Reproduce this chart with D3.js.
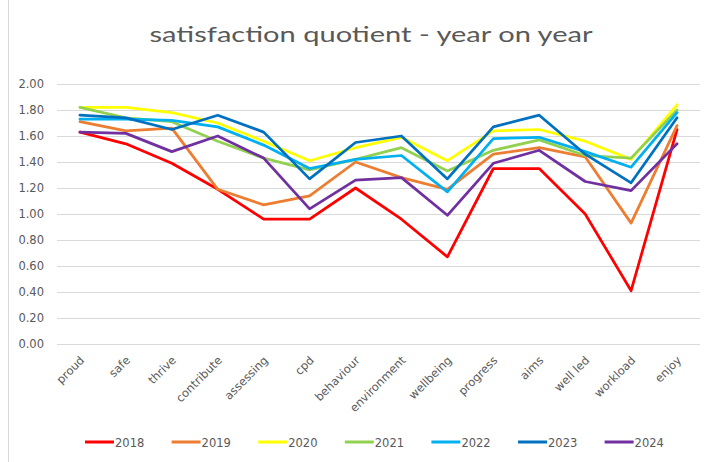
<!DOCTYPE html>
<html><head><meta charset="utf-8">
<script src="https://cdn.jsdelivr.net/npm/d3@7"></script>
<style>body{margin:0;background:#fff}svg{display:block}</style>
</head><body>
<svg id="c" width="722" height="462"></svg>
<script>
const categories = ["proud","safe","thrive","contribute","assessing","cpd","behaviour","environment","wellbeing","progress","aims","well led","workload","enjoy"];
const years = ["2018","2019","2020","2021","2022","2023","2024"];
const colors = ["#FF0000","#ED7D31","#FFFF00","#92D050","#00B0F0","#0070C0","#7030A0"];
const v2018 = [1.63,1.54,1.39,1.19,0.96,0.96,1.20,0.96,0.67,1.35,1.35,1.00,0.41,1.65];
const v2019 = [1.71,1.64,1.66,1.19,1.07,1.14,1.40,1.28,1.19,1.46,1.51,1.44,0.93,1.68];
const v2020 = [1.82,1.82,1.78,1.70,1.56,1.41,1.51,1.59,1.41,1.64,1.65,1.56,1.42,1.84];
const v2021 = [1.82,1.74,1.71,1.56,1.43,1.34,1.42,1.51,1.33,1.49,1.57,1.45,1.43,1.80];
const v2022 = [1.73,1.73,1.72,1.67,1.53,1.35,1.42,1.45,1.17,1.58,1.59,1.48,1.36,1.78];
const v2023 = [1.76,1.74,1.65,1.76,1.63,1.27,1.55,1.60,1.27,1.67,1.76,1.46,1.24,1.74];
const v2024 = [1.63,1.62,1.48,1.60,1.43,1.04,1.26,1.28,0.99,1.39,1.49,1.25,1.18,1.54];
const yTicks = [0,0.2,0.4,0.6,0.8,1.0,1.2,1.4,1.6,1.8,2.0];
const seriesValues = [v2018,v2019,v2020,v2021,v2022,v2023,v2024];

const svg = d3.select("#c");
const font = "'DejaVu Sans',sans-serif";
const tfont = "'Lato','Open Sans',sans-serif";
const grey = "#595959";

// frame left edge
svg.append("line").attr("x1",8.5).attr("x2",8.5).attr("y1",0).attr("y2",462)
  .attr("stroke","#d9d9d9").attr("stroke-width",1);

svg.append("text").attr("x",371).attr("y",42).attr("text-anchor","middle")
  .attr("font-family",tfont).attr("font-size",22).attr("fill",grey)
  .attr("textLength",443).attr("lengthAdjust","spacingAndGlyphs")
  .text("satisfaction quotient - year on year");

const x = d3.scaleBand().domain(categories).range([57,700]).padding(0);
const cx = c => x(c) + x.bandwidth()/2;
const y = d3.scaleLinear().domain([0,2]).range([344,84]);

// gridlines
svg.append("g").selectAll("line").data(yTicks).join("line")
  .attr("x1",57).attr("x2",700)
  .attr("y1",d=>Math.round(y(d))+0.5).attr("y2",d=>Math.round(y(d))+0.5)
  .attr("stroke","#d9d9d9").attr("stroke-width",1);

// y axis labels
const yAxis = d3.axisLeft(y).tickValues(yTicks).tickFormat(d3.format(".2f")).tickSize(0).tickPadding(0);
const gy = svg.append("g").attr("transform","translate(44,0)").call(yAxis);
gy.select(".domain").remove();
gy.selectAll("text").attr("font-family",font).attr("font-size",11.5).attr("fill",grey);

// x labels
svg.append("g").selectAll("text").data(categories).join("text")
  .attr("transform",d=>`translate(${cx(d)+5},361) rotate(-45)`)
  .attr("text-anchor","end")
  .attr("font-family",font).attr("font-size",11.5).attr("fill",grey)
  .text(d=>d);

// lines
const line = d3.line().x((d,i)=>cx(categories[i])).y(d=>y(d));
svg.append("g").selectAll("path").data(seriesValues).join("path")
  .attr("d",d=>line(d)).attr("fill","none")
  .attr("stroke",(d,i)=>colors[i]).attr("stroke-width",2.75)
  .attr("stroke-linejoin","round").attr("stroke-linecap","round");

// legend
const lg = svg.append("g").selectAll("g").data(years).join("g")
  .attr("transform",(d,i)=>`translate(${85 + i*86.6},442)`);
lg.append("line").attr("x1",0).attr("x2",29).attr("y1",0).attr("y2",0)
  .attr("stroke",(d,i)=>colors[i]).attr("stroke-width",3);
lg.append("text").attr("x",30).attr("y",4.5)
  .attr("font-family",font).attr("font-size",11.5).attr("fill",grey).text(d=>d);
</script>
</body></html>
